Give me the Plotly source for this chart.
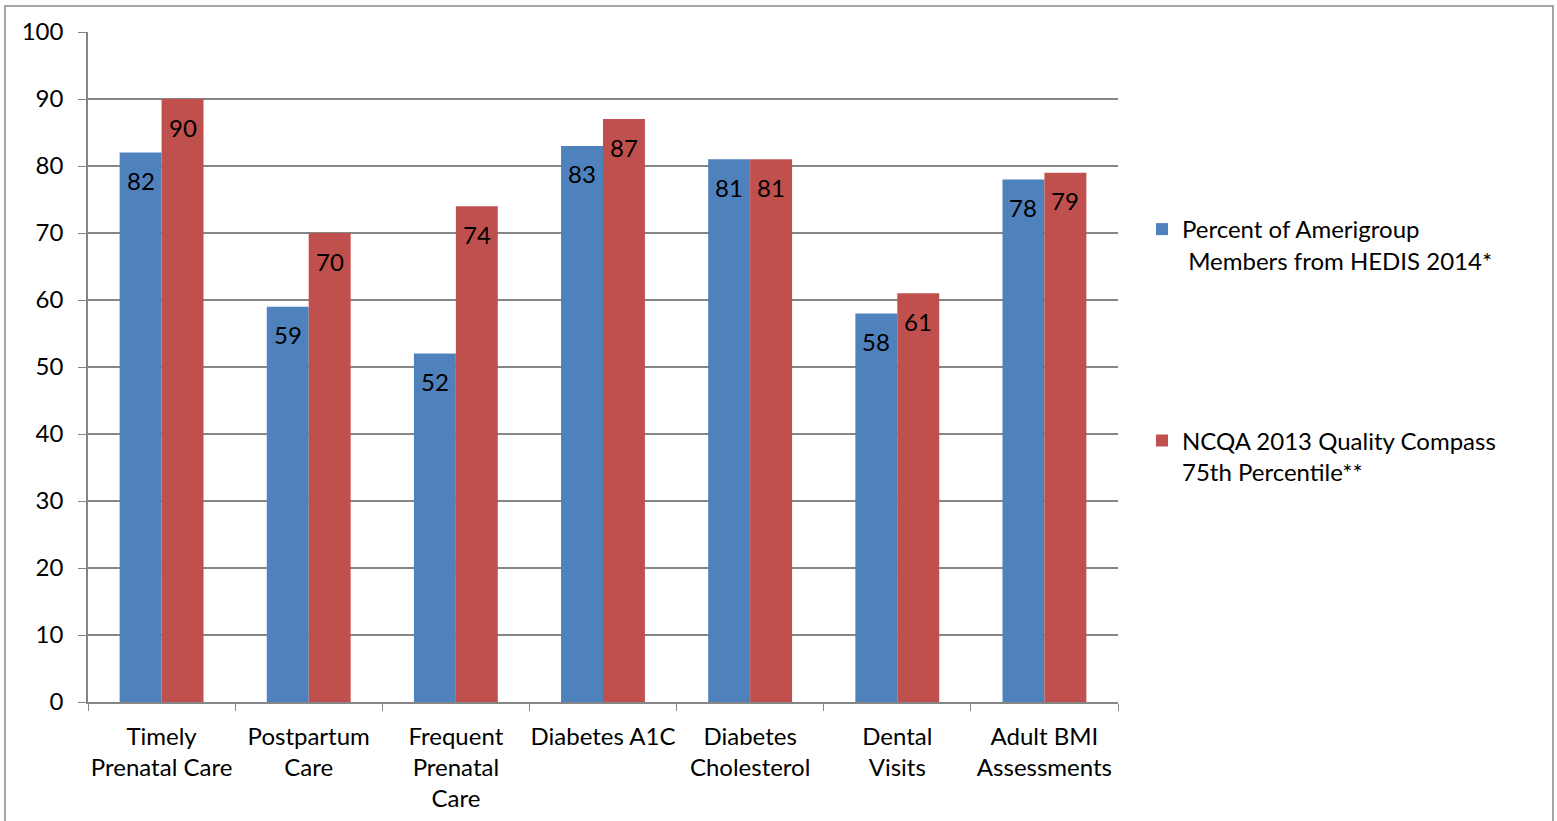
import plotly.graph_objects as go

categories = [
    "Timely<br>Prenatal Care",
    "Postpartum<br>Care",
    "Frequent<br>Prenatal<br>Care",
    "Diabetes A1C",
    "Diabetes<br>Cholesterol",
    "Dental<br>Visits",
    "Adult BMI<br>Assessments",
]
amerigroup = [82, 59, 52, 83, 81, 58, 78]
ncqa = [90, 70, 74, 87, 81, 61, 79]

series_names = [
    "Percent of Amerigroup<br>\u00a0Members from HEDIS 2014*",
    "NCQA 2013 Quality Compass<br>75th Percentile**",
]
colors = ["#4F81BD", "#C0504D"]

FONT = "Lato"
FS = 24
W, H = 1557, 821
ML, MR, MT, MB = 88, 439, 32, 119
plot_w = W - ML - MR
plot_h = H - MT - MB

fig = go.Figure()
for name, vals, col, grp in zip(series_names, [amerigroup, ncqa], colors, ["a", "b"]):
    fig.add_trace(go.Bar(
        x=categories, y=vals, name=name, marker=dict(color=col, line=dict(width=0)),
        legendgroup=grp,
    ))

# value labels just below the top of each bar
annotations = []
for vals, shift in [(amerigroup, -21), (ncqa, 21)]:
    for c, v in zip(categories, vals):
        annotations.append(dict(
            x=c, y=v, xref="x", yref="y", text=str(v), showarrow=False,
            xshift=shift, yshift=-28, font=dict(family=FONT, size=FS, color="black"),
        ))

def px_x(p):
    return (p - ML) / plot_w

def px_y(p):
    return (H - MB - p) / plot_h

fig.update_layout(
    width=W, height=H,
    margin=dict(l=ML, r=MR, t=MT, b=MB),
    paper_bgcolor="white", plot_bgcolor="white",
    barmode="group", bargap=0.43, bargroupgap=0,
    font=dict(family=FONT, size=FS, color="black"),
    annotations=annotations,
    legend=dict(
        x=px_x(1142), y=px_y(207), xanchor="left", yanchor="top",
        font=dict(family=FONT, size=FS, color="black"),
        traceorder="grouped", tracegroupgap=146, valign="top",
        itemwidth=30, bgcolor="rgba(0,0,0,0)",
    ),
    shapes=[dict(
        type="rect", xref="paper", yref="paper",
        x0=px_x(5), x1=px_x(1553), y0=px_y(840), y1=px_y(6),
        line=dict(color="#898989", width=1.5), fillcolor="rgba(0,0,0,0)", layer="below",
    )],
)
fig.update_xaxes(
    showline=True, linecolor="#868686", linewidth=1.5,
    ticks="outside", tickson="boundaries", ticklen=7, tickcolor="#868686",
    tickfont=dict(family=FONT, size=FS, color="black"), ticklabelstandoff=12,
    tickangle=0, automargin=False, showgrid=False,
)
fig.update_yaxes(
    range=[0, 100], dtick=10, showline=True, linecolor="#868686", linewidth=1.5,
    ticks="outside", ticklen=8, tickcolor="#868686",
    showgrid=True, gridcolor="#868686", gridwidth=1.5,
    tickfont=dict(family=FONT, size=FS, color="black"), ticklabelstandoff=10,
    automargin=False, zeroline=False,
)
fig.write_html("out.html")
